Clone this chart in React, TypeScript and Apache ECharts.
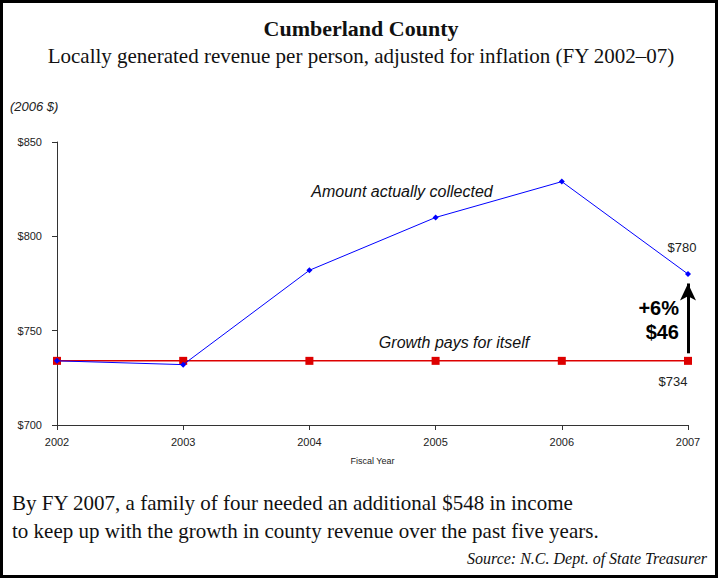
import React, { useEffect, useRef } from "react";
import * as echarts from "echarts";

const years = ["2002", "2003", "2004", "2005", "2006", "2007"];
const collected = [734, 732, 782, 810, 829, 780];
const growthPays = [734, 734, 734, 734, 734, 734];
const arrowFrom = 738;
const arrowTo = 775;

const SERIF = "'Liberation Serif', 'DejaVu Serif', serif";
const SANS = "'Liberation Sans', Arial, sans-serif";

export default function App() {
  const ref = useRef<HTMLDivElement>(null);
  useEffect(() => {
    if (!ref.current) return;
    const chart = echarts.init(ref.current, undefined, { renderer: "svg" });
    const last = years.length - 1;
    chart.setOption({
      animation: false,
      backgroundColor: "#ffffff",
      grid: { left: 57, right: 35, top: 142, bottom: 154, containLabel: false },
      xAxis: {
        type: "category",
        data: years,
        boundaryGap: false,
        name: "Fiscal Year",
        nameLocation: "middle",
        nameGap: 31,
        nameTextStyle: { fontFamily: SANS, fontSize: 9, color: "#222" },
        axisLine: { lineStyle: { color: "#333", width: 1 } },
        axisTick: { show: true, alignWithLabel: true, length: 5, inside: false, lineStyle: { color: "#333" } },
        axisLabel: { fontFamily: SANS, fontSize: 11, color: "#222", margin: 11 },
        splitLine: { show: false },
      },
      yAxis: {
        type: "value",
        min: 700,
        max: 850,
        interval: 50,
        axisLine: { show: true, lineStyle: { color: "#333", width: 1 } },
        axisTick: { show: true, length: 5, lineStyle: { color: "#333" } },
        axisLabel: { fontFamily: SANS, fontSize: 11, color: "#222", margin: 15, formatter: (v: number) => "$" + v },
        splitLine: { show: false },
      },
      series: [
        {
          name: "Growth pays for itself",
          type: "line",
          data: growthPays,
          color: "#dd0000",
          lineStyle: { color: "#dd0000", width: 1.5 },
          symbol: "rect",
          symbolSize: 8,
          itemStyle: { color: "#dd0000" },
          z: 2,
          label: {
            show: true,
            position: "bottom",
            distance: 10,
            offset: [-15, 0],
            fontFamily: SANS,
            fontSize: 13,
            color: "#222",
            formatter: (p: any) => (p.dataIndex === last ? "$" + p.value : ""),
          },
          markLine: {
            silent: true,
            symbol: ["none", "arrow"],
            symbolSize: [12, 17],
            label: { show: false },
            lineStyle: { color: "#000", width: 3, type: "solid" },
            data: [[{ coord: [years[last], arrowFrom] }, { coord: [years[last], arrowTo] }]],
          },
        },
        {
          name: "Amount actually collected",
          type: "line",
          data: collected,
          color: "#0000ff",
          lineStyle: { color: "#0000ff", width: 1 },
          symbol: "diamond",
          symbolSize: 6,
          itemStyle: { color: "#0000ff" },
          z: 3,
          label: {
            show: true,
            position: "top",
            distance: 17,
            offset: [-6, 0],
            fontFamily: SANS,
            fontSize: 13,
            color: "#222",
            formatter: (p: any) => (p.dataIndex === last ? "$" + p.value : ""),
          },
        },
      ],
      graphic: [
        {
          type: "rect",
          shape: { x: 1.5, y: 1.5, width: 715, height: 575 },
          style: { fill: "none", stroke: "#000", lineWidth: 3 },
          silent: true,
        },
        {
          type: "text",
          x: 361,
          y: 28,
          style: { text: "Cumberland County", font: `bold 22px ${SERIF}`, fill: "#111", textAlign: "center", textVerticalAlign: "middle" },
        },
        {
          type: "text",
          x: 361,
          y: 56,
          style: {
            text: "Locally generated revenue per person, adjusted for inflation (FY 2002\u201307)",
            font: `21px ${SERIF}`,
            fill: "#111",
            textAlign: "center",
            textVerticalAlign: "middle",
          },
        },
        {
          type: "text",
          x: 10,
          y: 106,
          style: { text: "(2006 $)", font: `italic 13px ${SANS}`, fill: "#222", textAlign: "left", textVerticalAlign: "middle" },
        },
        {
          type: "text",
          x: 402,
          y: 191,
          style: { text: "Amount actually collected", font: `italic 16px ${SANS}`, fill: "#111", textAlign: "center", textVerticalAlign: "middle" },
        },
        {
          type: "text",
          x: 454,
          y: 342,
          style: { text: "Growth pays for itself", font: `italic 16px ${SANS}`, fill: "#111", textAlign: "center", textVerticalAlign: "middle" },
        },
        {
          type: "text",
          x: 679,
          y: 308,
          style: { text: "+6%", font: `bold 20px ${SANS}`, fill: "#000", textAlign: "right", textVerticalAlign: "middle" },
        },
        {
          type: "text",
          x: 679,
          y: 332,
          style: { text: "$46", font: `bold 20px ${SANS}`, fill: "#000", textAlign: "right", textVerticalAlign: "middle" },
        },
        {
          type: "text",
          x: 12,
          y: 503,
          style: {
            text: "By FY 2007, a family of four needed an additional $548 in income",
            font: `21px ${SERIF}`,
            fill: "#111",
            textAlign: "left",
            textVerticalAlign: "middle",
          },
        },
        {
          type: "text",
          x: 12,
          y: 531,
          style: {
            text: "to keep up with the growth in county revenue over the past five years.",
            font: `21px ${SERIF}`,
            fill: "#111",
            textAlign: "left",
            textVerticalAlign: "middle",
          },
        },
        {
          type: "text",
          x: 707,
          y: 558,
          style: {
            text: "Source: N.C. Dept. of State Treasurer",
            font: `italic 16px ${SERIF}`,
            fill: "#111",
            textAlign: "right",
            textVerticalAlign: "middle",
          },
        },
      ],
    });
    return () => chart.dispose();
  }, []);
  return <div ref={ref} style={{ position: "fixed", left: 0, top: 0, width: 723, height: 579 }} />;
}
